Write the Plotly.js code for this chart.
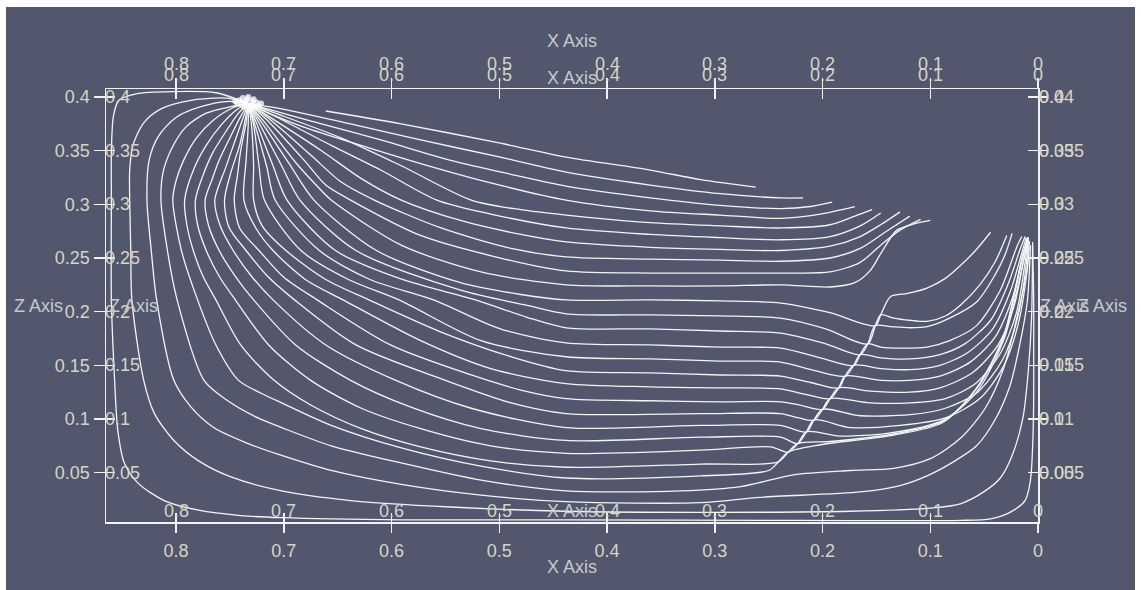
<!DOCTYPE html>
<html>
<head>
<meta charset="utf-8">
<script src="https://cdn.plot.ly/plotly-3.0.1.min.js"></script>
<style>
  html, body { margin:0; padding:0; background:#ffffff; width:1141px; height:590px; overflow:hidden; }
  #plot { position:absolute; left:6px; top:7px; width:1129px; height:583px; }
</style>
</head>
<body>
<div id="plot"></div>
<script>
// ---- tick labels ----
const xTickVals = [0, 0.1, 0.2, 0.3, 0.4, 0.5, 0.6, 0.7, 0.8];
const xTickText = ['0', '0.1', '0.2', '0.3', '0.4', '0.5', '0.6', '0.7', '0.8'];
const zTickVals = [0.05, 0.1, 0.15, 0.2, 0.25, 0.3, 0.35, 0.4];
const zTickText = ['0.05', '0.1', '0.15', '0.2', '0.25', '0.3', '0.35', '0.4'];
const zTickTextBack = ['0.005', '0.01', '0.015', '0.02', '0.025', '0.03', '0.035', '0.04'];
const xRange = [0.865, 0];
const zRange = [0.004, 0.4075];

// ---- seed cluster near the source ----
const seedX = [0.741,0.738,0.733,0.728,0.725,0.740,0.735,0.730,0.727,0.743,0.737,0.731,0.723,0.734,0.745,0.721,0.736,0.729];
const seedZ = [0.397,0.399,0.400,0.398,0.395,0.393,0.396,0.393,0.391,0.394,0.391,0.389,0.392,0.398,0.396,0.394,0.394,0.396];

// ---- streamlines (x, z) ----
const s01x = [0.661,0.591,0.499,0.438,0.360,0.313,0.262];
const s01z = [0.387,0.375,0.357,0.344,0.332,0.323,0.316];
const s02x = [0.733,0.702,0.638,0.573,0.499,0.438,0.360,0.295,0.239,0.218];
const s02z = [0.394,0.389,0.375,0.360,0.344,0.330,0.318,0.310,0.306,0.306];
const s03x = [0.733,0.712,0.665,0.610,0.545,0.489,0.438,0.360,0.295,0.239,0.211,0.191];
const s03z = [0.394,0.388,0.375,0.360,0.341,0.328,0.317,0.306,0.299,0.296,0.298,0.302];
const s04x = [0.733,0.716,0.684,0.638,0.573,0.508,0.438,0.360,0.295,0.239,0.202,0.170];
const s04z = [0.394,0.386,0.373,0.358,0.338,0.320,0.304,0.294,0.290,0.287,0.291,0.298];
const s05x = [0.733,0.708,0.647,0.591,0.526,0.480,0.438,0.360,0.295,0.239,0.193,0.170,0.154];
const s05z = [0.394,0.385,0.362,0.336,0.304,0.295,0.290,0.283,0.280,0.278,0.281,0.289,0.295];
const s06x = [0.733,0.710,0.656,0.610,0.558,0.508,0.438,0.360,0.295,0.239,0.193,0.165,0.146];
const s06z = [0.394,0.383,0.355,0.332,0.304,0.291,0.278,0.272,0.269,0.267,0.270,0.280,0.292];
const s07x = [0.733,0.714,0.665,0.628,0.591,0.536,0.480,0.438,0.360,0.295,0.239,0.193,0.165,0.146,0.128];
const s07z = [0.394,0.382,0.350,0.324,0.304,0.285,0.272,0.265,0.260,0.258,0.257,0.261,0.270,0.281,0.293];
const s08x = [0.733,0.715,0.675,0.647,0.616,0.554,0.489,0.438,0.360,0.295,0.239,0.193,0.165,0.142,0.119];
const s08z = [0.394,0.381,0.346,0.321,0.304,0.278,0.259,0.251,0.249,0.248,0.247,0.250,0.259,0.274,0.289];
const s09x = [0.733,0.717,0.681,0.661,0.638,0.573,0.499,0.438,0.360,0.295,0.239,0.193,0.165,0.146,0.128,0.109];
const s09z = [0.394,0.380,0.341,0.318,0.304,0.271,0.250,0.238,0.236,0.236,0.236,0.237,0.246,0.262,0.276,0.286];
const s10x = [0.733,0.719,0.689,0.670,0.656,0.591,0.517,0.438,0.360,0.295,0.239,0.193,0.170,0.156,0.146,0.131,0.114,0.100];
const s10z = [0.394,0.378,0.339,0.318,0.304,0.262,0.237,0.225,0.224,0.224,0.225,0.223,0.227,0.238,0.254,0.276,0.282,0.285];
const s11x = [0.733,0.721,0.695,0.672,0.614,0.536,0.480,0.438,0.360,0.295,0.239,0.193,0.151,0.146,0.137,0.121,0.103,0.086,0.072,0.058,0.044];
const s11z = [0.394,0.377,0.338,0.304,0.257,0.227,0.216,0.211,0.211,0.210,0.208,0.199,0.187,0.197,0.214,0.217,0.222,0.231,0.243,0.257,0.274];
const s12x = [0.733,0.723,0.702,0.685,0.633,0.536,0.475,0.438,0.360,0.295,0.239,0.197,0.158,0.151,0.146,0.134,0.119,0.103,0.086,0.072,0.054,0.040,0.029];
const s12z = [0.394,0.376,0.336,0.304,0.257,0.220,0.206,0.198,0.197,0.196,0.194,0.184,0.170,0.187,0.197,0.194,0.192,0.191,0.196,0.206,0.225,0.246,0.271];
const s13x = [0.733,0.725,0.710,0.697,0.652,0.590,0.522,0.475,0.438,0.360,0.295,0.239,0.197,0.165,0.158,0.151,0.137,0.119,0.103,0.082,0.057,0.040,0.031,0.024];
const s13z = [0.394,0.375,0.336,0.304,0.257,0.230,0.211,0.195,0.185,0.184,0.182,0.180,0.170,0.160,0.170,0.187,0.186,0.185,0.186,0.194,0.209,0.234,0.252,0.273];
const s14x = [0.733,0.727,0.716,0.708,0.667,0.620,0.561,0.499,0.438,0.360,0.295,0.239,0.202,0.171,0.165,0.158,0.146,0.128,0.103,0.082,0.057,0.035,0.019,0.015];
const s14z = [0.394,0.375,0.336,0.304,0.257,0.230,0.211,0.184,0.171,0.169,0.167,0.166,0.157,0.150,0.160,0.170,0.167,0.166,0.167,0.173,0.187,0.220,0.262,0.270];
const s15x = [0.733,0.728,0.723,0.718,0.684,0.640,0.593,0.517,0.438,0.360,0.295,0.239,0.207,0.179,0.171,0.165,0.146,0.119,0.091,0.068,0.044,0.028,0.017,0.012];
const s15z = [0.394,0.374,0.336,0.304,0.257,0.230,0.211,0.173,0.158,0.156,0.154,0.153,0.145,0.140,0.150,0.160,0.157,0.156,0.160,0.170,0.192,0.225,0.257,0.270];
const s16x = [0.733,0.730,0.728,0.728,0.720,0.698,0.661,0.621,0.554,0.489,0.438,0.360,0.295,0.239,0.211,0.185,0.179,0.171,0.146,0.119,0.091,0.065,0.042,0.026,0.015,0.011];
const s16z = [0.394,0.374,0.336,0.304,0.280,0.257,0.230,0.211,0.181,0.158,0.145,0.143,0.141,0.140,0.134,0.129,0.140,0.150,0.147,0.146,0.150,0.162,0.184,0.218,0.255,0.269];
const s17x = [0.733,0.733,0.735,0.737,0.726,0.710,0.680,0.645,0.573,0.508,0.438,0.360,0.295,0.239,0.216,0.193,0.185,0.179,0.146,0.119,0.091,0.063,0.040,0.024,0.014,0.010];
const s17z = [0.394,0.374,0.341,0.304,0.278,0.257,0.230,0.211,0.173,0.147,0.133,0.130,0.129,0.128,0.123,0.119,0.129,0.140,0.136,0.136,0.140,0.153,0.176,0.212,0.252,0.269];
const s18x = [0.733,0.735,0.740,0.743,0.746,0.741,0.723,0.700,0.669,0.601,0.526,0.480,0.438,0.360,0.295,0.239,0.221,0.200,0.193,0.185,0.156,0.119,0.091,0.061,0.037,0.022,0.013,0.009];
const s18z = [0.394,0.376,0.350,0.327,0.304,0.278,0.257,0.232,0.211,0.169,0.141,0.127,0.119,0.117,0.116,0.116,0.113,0.109,0.119,0.129,0.126,0.125,0.129,0.143,0.169,0.206,0.250,0.269];
const s19x = [0.733,0.736,0.741,0.749,0.755,0.751,0.735,0.715,0.690,0.633,0.550,0.489,0.438,0.313,0.239,0.222,0.208,0.200,0.193,0.156,0.119,0.086,0.058,0.035,0.020,0.012,0.009];
const s19z = [0.394,0.378,0.355,0.330,0.304,0.279,0.257,0.233,0.211,0.169,0.136,0.115,0.105,0.105,0.105,0.101,0.099,0.109,0.119,0.115,0.115,0.119,0.133,0.161,0.199,0.246,0.269];
const s20x = [0.733,0.738,0.745,0.754,0.764,0.759,0.747,0.730,0.710,0.661,0.596,0.526,0.438,0.313,0.239,0.215,0.208,0.200,0.165,0.119,0.086,0.056,0.033,0.019,0.011,0.009];
const s20z = [0.394,0.380,0.360,0.334,0.304,0.280,0.257,0.233,0.211,0.169,0.136,0.110,0.092,0.094,0.094,0.088,0.099,0.109,0.103,0.104,0.110,0.125,0.155,0.194,0.243,0.269];
const s21x = [0.733,0.740,0.749,0.760,0.767,0.773,0.770,0.760,0.745,0.728,0.689,0.638,0.582,0.517,0.438,0.313,0.239,0.223,0.215,0.208,0.174,0.128,0.086,0.054,0.032,0.018,0.010,0.009];
const s21z = [0.394,0.382,0.364,0.341,0.322,0.304,0.281,0.257,0.233,0.211,0.169,0.136,0.111,0.091,0.080,0.083,0.083,0.077,0.088,0.099,0.092,0.094,0.101,0.119,0.149,0.190,0.240,0.269];
const s22x = [0.733,0.742,0.753,0.766,0.775,0.782,0.780,0.772,0.760,0.745,0.714,0.675,0.628,0.573,0.508,0.438,0.313,0.248,0.232,0.223,0.215,0.184,0.137,0.088,0.057,0.032,0.017,0.009];
const s22z = [0.394,0.385,0.369,0.348,0.327,0.304,0.281,0.257,0.233,0.211,0.169,0.136,0.110,0.091,0.075,0.068,0.071,0.074,0.069,0.077,0.088,0.084,0.087,0.099,0.125,0.173,0.231,0.269];
const s23x = [0.733,0.744,0.758,0.772,0.783,0.792,0.790,0.784,0.775,0.763,0.740,0.709,0.675,0.628,0.573,0.508,0.438,0.313,0.241,0.232,0.223,0.193,0.134,0.088,0.057,0.032,0.014,0.009];
const s23z = [0.394,0.388,0.374,0.355,0.334,0.304,0.281,0.257,0.233,0.211,0.169,0.136,0.113,0.091,0.074,0.061,0.055,0.058,0.060,0.069,0.077,0.079,0.086,0.098,0.128,0.176,0.252,0.269];
const s24x = [0.733,0.747,0.766,0.781,0.793,0.800,0.803,0.795,0.780,0.763,0.742,0.721,0.702,0.656,0.591,0.517,0.438,0.313,0.250,0.241,0.232,0.202,0.134,0.088,0.057,0.032,0.014,0.009];
const s24z = [0.394,0.390,0.378,0.362,0.341,0.322,0.304,0.257,0.211,0.169,0.136,0.124,0.115,0.094,0.073,0.056,0.045,0.047,0.052,0.060,0.069,0.076,0.085,0.097,0.129,0.177,0.254,0.269];
const s25x = [0.733,0.749,0.772,0.791,0.804,0.812,0.814,0.808,0.799,0.774,0.752,0.724,0.702,0.656,0.591,0.517,0.438,0.332,0.276,0.227,0.174,0.134,0.100,0.072,0.049,0.032,0.019,0.010,0.008];
const s25z = [0.394,0.391,0.385,0.372,0.352,0.330,0.304,0.257,0.211,0.136,0.117,0.101,0.092,0.075,0.059,0.043,0.033,0.033,0.037,0.048,0.052,0.054,0.063,0.082,0.110,0.147,0.197,0.240,0.266];
const s26x = [0.733,0.751,0.777,0.800,0.816,0.825,0.827,0.823,0.818,0.802,0.786,0.765,0.733,0.702,0.656,0.591,0.517,0.438,0.313,0.258,0.165,0.128,0.103,0.077,0.057,0.040,0.026,0.017,0.010,0.007];
const s26z = [0.394,0.396,0.391,0.381,0.364,0.341,0.304,0.257,0.211,0.136,0.111,0.092,0.077,0.066,0.052,0.039,0.029,0.023,0.022,0.027,0.032,0.038,0.047,0.061,0.075,0.099,0.131,0.169,0.209,0.262];
const s27x = [0.733,0.753,0.786,0.814,0.830,0.840,0.843,0.843,0.842,0.841,0.830,0.820,0.802,0.779,0.749,0.702,0.638,0.545,0.438,0.313,0.174,0.100,0.072,0.049,0.035,0.024,0.014,0.009,0.006,0.005];
const s27z = [0.394,0.399,0.397,0.389,0.376,0.355,0.332,0.304,0.257,0.211,0.136,0.105,0.080,0.061,0.046,0.033,0.024,0.018,0.014,0.013,0.014,0.017,0.021,0.033,0.045,0.066,0.101,0.145,0.194,0.265];
const s28x = [0.733,0.763,0.804,0.837,0.853,0.858,0.860,0.860,0.860,0.857,0.854,0.848,0.835,0.811,0.779,0.740,0.702,0.591,0.438,0.221,0.072,0.044,0.026,0.012,0.007,0.005,0.004,0.004,0.004,0.005];
const s28z = [0.394,0.404,0.405,0.403,0.397,0.383,0.350,0.304,0.211,0.136,0.089,0.059,0.040,0.024,0.015,0.010,0.008,0.006,0.006,0.0055,0.0055,0.007,0.013,0.024,0.043,0.074,0.117,0.164,0.211,0.262];

const streams = [
  [s01x,s01z],[s02x,s02z],[s03x,s03z],[s04x,s04z],[s05x,s05z],[s06x,s06z],[s07x,s07z],
  [s08x,s08z],[s09x,s09z],[s10x,s10z],[s11x,s11z],[s12x,s12z],[s13x,s13z],[s14x,s14z],
  [s15x,s15z],[s16x,s16z],[s17x,s17z],[s18x,s18z],[s19x,s19z],[s20x,s20z],[s21x,s21z],
  [s22x,s22z],[s23x,s23z],[s24x,s24z],[s25x,s25z],[s26x,s26z],[s27x,s27z],[s28x,s28z]
];

const lineColor = '#f4f4f4';
const axisColor = '#f2f2f2';
const fontFam = 'Liberation Sans, Arial, sans-serif';
const labelFont = {family: fontFam, size: 18, color: '#d7d4c6'};
const titleFont = {family: fontFam, size: 18, color: '#c9c9c9'};

const traces = streams.map(([xs, zs]) => ({
  type: 'scatter', mode: 'lines', x: xs, y: zs,
  line: {color: lineColor, width: 1.3, shape: 'spline', smoothing: 0.8},
  hoverinfo: 'skip', showlegend: false
}));

traces.push({type:'scatter', mode:'markers', x: seedX, y: seedZ,
  marker:{color:'#ffffff', size:6, opacity:0.75, line:{width:0}}, hoverinfo:'skip', showlegend:false});

// helper (invisible) traces so the overlay axes get drawn
[['x2','y'],['x3','y'],['x4','y'],['x','y2'],['x','y3'],['x','y4']].forEach(([xa, ya]) => {
  traces.push({type:'scatter', mode:'markers', x:[xTickVals[1]], y:[zTickVals[1]], xaxis:xa, yaxis:ya,
    marker:{opacity:0, size:1}, hoverinfo:'skip', showlegend:false});
});

const baseX = {range: xRange, showgrid:false, zeroline:false, tickvals: xTickVals, tickcolor: axisColor, tickwidth: 1.5, fixedrange:true};
const baseY = {range: zRange, showgrid:false, zeroline:false, tickvals: zTickVals, tickcolor: axisColor, tickwidth: 1.5, fixedrange:true};

const annotations = [];
xTickVals.forEach((v, i) => {
  annotations.push({x:v, xref:'x', y:1, yref:'paper', yanchor:'middle', yshift:25, text:xTickText[i], showarrow:false, font:labelFont});
  annotations.push({x:v, xref:'x', y:1, yref:'paper', yanchor:'middle', yshift:14, text:xTickText[i], showarrow:false, font:labelFont});
  annotations.push({x:v, xref:'x', y:0, yref:'paper', yanchor:'middle', yshift:11, text:xTickText[i], showarrow:false, font:labelFont});
});
zTickVals.forEach((v, i) => {
  annotations.push({x:0, xref:'paper', xanchor:'left', xshift:-3, y:v, yref:'y', yanchor:'middle', text:zTickText[i], showarrow:false, font:labelFont});
  annotations.push({x:1, xref:'paper', xanchor:'left', xshift:-1, y:v, yref:'y', yanchor:'middle', text:zTickText[i], showarrow:false, font:labelFont});
  annotations.push({x:1, xref:'paper', xanchor:'left', xshift:-1, y:v, yref:'y', yanchor:'middle', text:zTickTextBack[i], showarrow:false, font:labelFont});
});
annotations.push({x:0.5, xref:'paper', y:1, yref:'paper', yanchor:'middle', yshift:48, text:'X Axis', showarrow:false, font:titleFont});
annotations.push({x:0.5, xref:'paper', y:1, yref:'paper', yanchor:'middle', yshift:11, text:'X Axis', showarrow:false, font:titleFont});
annotations.push({x:0.5, xref:'paper', y:0, yref:'paper', yanchor:'middle', yshift:11, text:'X Axis', showarrow:false, font:titleFont});
annotations.push({x:0.5, xref:'paper', y:0, yref:'paper', yanchor:'middle', yshift:-45, text:'X Axis', showarrow:false, font:titleFont});
annotations.push({x:0, xref:'paper', xanchor:'center', xshift:-68, y:0.5, yref:'paper', yanchor:'middle', text:'Z Axis', showarrow:false, font:titleFont});
annotations.push({x:0, xref:'paper', xanchor:'center', xshift:27, y:0.5, yref:'paper', yanchor:'middle', text:'Z Axis', showarrow:false, font:titleFont});
annotations.push({x:1, xref:'paper', xanchor:'center', xshift:26, y:0.5, yref:'paper', yanchor:'middle', text:'Z Axis', showarrow:false, font:titleFont});
annotations.push({x:1, xref:'paper', xanchor:'center', xshift:64, y:0.5, yref:'paper', yanchor:'middle', text:'Z Axis', showarrow:false, font:titleFont});

const layout = {
  width: 1129, height: 583,
  margin: {l:100, r:97, t:82, b:68, pad:0},
  paper_bgcolor: '#52576e', plot_bgcolor: 'rgba(0,0,0,0)',
  showlegend: false,
  xaxis: Object.assign({}, baseX, {side:'bottom', showline:true, linecolor:axisColor, linewidth:1.5,
    ticks:'outside', ticklen:9, ticktext: xTickText, tickfont: labelFont, ticklabelstandoff: 3}),
  xaxis2: Object.assign({}, baseX, {overlaying:'x', side:'bottom', showline:false, ticks:'inside', ticklen:9, showticklabels:false}),
  xaxis3: Object.assign({}, baseX, {overlaying:'x', side:'top', showline:true, linecolor:axisColor, linewidth:1.5, ticks:'outside', ticklen:10, showticklabels:false}),
  xaxis4: Object.assign({}, baseX, {overlaying:'x', side:'top', showline:false, ticks:'inside', ticklen:10, showticklabels:false}),
  yaxis: Object.assign({}, baseY, {side:'left', showline:true, linecolor:axisColor, linewidth:1.5,
    ticks:'outside', ticklen:11, ticktext: zTickText, tickfont: labelFont}),
  yaxis2: Object.assign({}, baseY, {overlaying:'y', side:'left', showline:false, ticks:'inside', ticklen:9, showticklabels:false}),
  yaxis3: Object.assign({}, baseY, {overlaying:'y', side:'right', showline:true, linecolor:axisColor, linewidth:1.5, ticks:'outside', ticklen:7, showticklabels:false}),
  yaxis4: Object.assign({}, baseY, {overlaying:'y', side:'right', showline:false, ticks:'inside', ticklen:10, showticklabels:false}),
  annotations: annotations
};

Plotly.newPlot('plot', traces, layout, {displayModeBar:false, staticPlot:true});
</script>
</body>
</html>
